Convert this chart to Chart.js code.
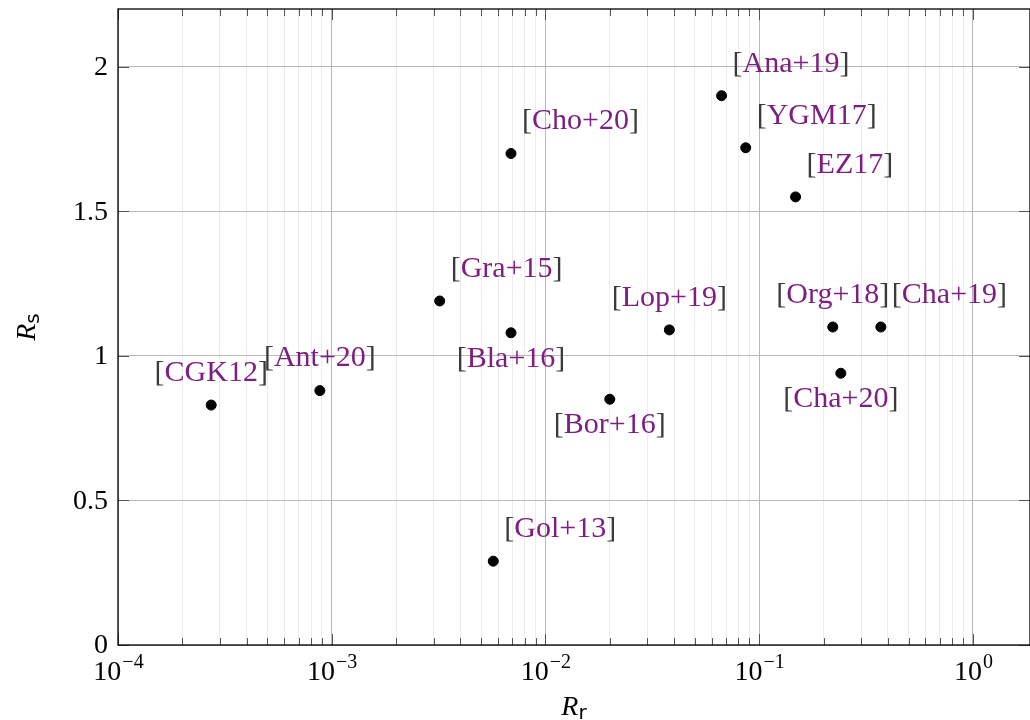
<!DOCTYPE html>
<html><head><meta charset="utf-8">
<script src="https://cdn.jsdelivr.net/npm/chart.js@4/dist/chart.umd.min.js"></script>
<style>html,body{margin:0;padding:0;background:#fff;overflow:hidden}#wrap{width:1030px;height:720px;position:relative;overflow:hidden}</style>
</head><body><div id="wrap"><canvas id="c" width="1036" height="720"></canvas></div>
<script>
// ---- data ----
const refs = ['CGK12','Ant+20','Gra+15','Bla+16','Cho+20','Gol+13','Bor+16','Lop+19','Ana+19','YGM17','EZ17','Org+18','Cha+20','Cha+19'];
const rrValues = [2.73e-4, 8.8e-4, 3.2e-3, 6.9e-3, 6.9e-3, 5.7e-3, 0.0200, 0.0380, 0.0667, 0.0865, 0.148, 0.221, 0.241, 0.371];
const rsValues = [0.83, 0.88, 1.19, 1.08, 1.70, 0.29, 0.85, 1.09, 1.90, 1.72, 1.55, 1.10, 0.94, 1.10];
const xTickValues = [1e-4, 1e-3, 1e-2, 1e-1, 1];
const xTickExponents = ['\u22124', '\u22123', '\u22122', '\u22121', '0'];
const yTickValues = [0, 0.5, 1, 1.5, 2];
const yTickLabels = ['0', '0.5', '1', '1.5', '2'];
const xTitle = ['R', 'r'];
const yTitle = ['R', 's'];

// ---- label placement (style) ----
const labelPlacement = ['a','a','ar','b','ar','ar','b','a','ar','ar','ar','a','b','ar'];

const SERIF = '"Liberation Serif", "DejaVu Serif", serif';
const SANS = '"DejaVu Sans", "Liberation Sans", sans-serif';
const FS = 28;
const LFS = 30;
const PURPLE = '#7d1f80';

const points = rrValues.map((x, i) => ({x: x, y: rsValues[i]}));

function drawLabel(ctx, text, cx, cy, align) {
  ctx.font = LFS + 'px ' + SERIF;
  ctx.textBaseline = 'middle';
  ctx.textAlign = 'left';
  const wl = ctx.measureText('[').width, wt = ctx.measureText(text).width, wr = ctx.measureText(']').width;
  const total = wl + wt + wr;
  let x = align === 'left' ? cx : cx - total / 2;
  ctx.fillStyle = '#3a3a3a';
  ctx.fillText('[', x, cy);
  ctx.fillStyle = PURPLE;
  ctx.fillText(text, x + wl, cy);
  ctx.fillStyle = '#3a3a3a';
  ctx.fillText(']', x + wl + wt, cy);
}

const overlay = {
  id: 'overlay',
  afterDraw(chart) {
    const ctx = chart.ctx;
    const a = chart.chartArea;
    const xs = chart.scales.x, ys = chart.scales.y;
    ctx.save();
    // inward tick marks
    ctx.strokeStyle = '#555';
    ctx.lineWidth = 1;
    xs.ticks.forEach(t => {
      const px = Math.round(xs.getPixelForValue(t.value)) + 0.5;
      const len = xTickValues.includes(t.value) ? 11 : 7;
      ctx.beginPath();
      ctx.moveTo(px, a.bottom); ctx.lineTo(px, a.bottom - len);
      ctx.moveTo(px, a.top); ctx.lineTo(px, a.top + len);
      ctx.stroke();
    });
    ys.ticks.forEach(t => {
      const py = Math.round(ys.getPixelForValue(t.value)) + 0.5;
      ctx.beginPath();
      ctx.moveTo(a.left, py); ctx.lineTo(a.left + 11, py);
      ctx.moveTo(a.right, py); ctx.lineTo(a.right - 11, py);
      ctx.stroke();
    });
    // frame
    ctx.strokeStyle = '#000';
    ctx.lineWidth = 1.3;
    ctx.strokeRect(a.left, a.top, a.right - a.left, a.bottom - a.top);

    // point labels
    const meta = chart.getDatasetMeta(0);
    meta.data.forEach((el, i) => {
      const p = labelPlacement[i];
      if (p === 'ar') drawLabel(ctx, refs[i], el.x + 11, el.y - 32, 'left');
      else if (p === 'a') drawLabel(ctx, refs[i], el.x, el.y - 32, 'center');
      else drawLabel(ctx, refs[i], el.x, el.y + 26, 'center');
    });

    // y tick labels
    ctx.fillStyle = '#000';
    ctx.font = FS + 'px ' + SERIF;
    ctx.textAlign = 'right';
    ctx.textBaseline = 'middle';
    yTickValues.forEach((v, i) => {
      ctx.fillText(yTickLabels[i], a.left - 10, ys.getPixelForValue(v) + 1);
    });
    // x tick labels: 10^exp
    ctx.textBaseline = 'alphabetic';
    ctx.textAlign = 'left';
    xTickValues.forEach((v, i) => {
      const px = xs.getPixelForValue(v);
      ctx.font = FS + 'px ' + SERIF;
      const wb = ctx.measureText('10').width;
      ctx.font = Math.round(FS * 0.72) + 'px ' + SERIF;
      const we = ctx.measureText(xTickExponents[i]).width;
      const x0 = px - (wb + we) / 2;
      ctx.font = FS + 'px ' + SERIF;
      ctx.fillText('10', x0, a.bottom + 35);
      ctx.font = Math.round(FS * 0.72) + 'px ' + SERIF;
      ctx.fillText(xTickExponents[i], x0 + wb + 1, a.bottom + 23);
    });

    // axis titles
    const cxm = (a.left + a.right) / 2;
    ctx.font = 'italic ' + FS + 'px ' + SERIF;
    const wR = ctx.measureText(xTitle[0]).width;
    ctx.font = '20px ' + SANS;
    const wr = ctx.measureText(xTitle[1]).width;
    let x0 = cxm - (wR + wr) / 2;
    ctx.font = 'italic ' + FS + 'px ' + SERIF;
    ctx.fillText(xTitle[0], x0, 715);
    ctx.font = '20px ' + SANS;
    ctx.fillText(xTitle[1], x0 + wR, 719);

    ctx.save();
    const cym = (a.top + a.bottom) / 2;
    ctx.translate(35, cym);
    ctx.rotate(-Math.PI / 2);
    ctx.font = 'italic ' + FS + 'px ' + SERIF;
    const wR2 = ctx.measureText(yTitle[0]).width;
    ctx.font = '20px ' + SANS;
    const ws = ctx.measureText(yTitle[1]).width;
    x0 = -(wR2 + ws) / 2;
    ctx.font = 'italic ' + FS + 'px ' + SERIF;
    ctx.fillText(yTitle[0], x0, 0);
    ctx.font = '20px ' + SANS;
    ctx.fillText(yTitle[1], x0 + wR2, 4);
    ctx.restore();

    ctx.restore();
  }
};

new Chart(document.getElementById('c'), {
  type: 'scatter',
  data: {
    datasets: [{
      data: points,
      backgroundColor: '#000',
      borderColor: '#000',
      pointRadius: 5,
      pointHoverRadius: 5
    }]
  },
  options: {
    responsive: false,
    animation: false,
    devicePixelRatio: 1,
    layout: {padding: {left: 118, right: 1, top: 9, bottom: 75}},
    plugins: {legend: {display: false}, tooltip: {enabled: false}},
    scales: {
      x: {
        type: 'logarithmic',
        min: 1e-4,
        max: 1.85,
        afterBuildTicks(scale) {
          const t = [];
          for (let d = -4; d <= 0; d++) {
            for (let m = 1; m <= 9; m++) {
              const v = m * Math.pow(10, d);
              if (v <= 1.85) t.push({value: Number(v.toPrecision(6))});
            }
          }
          scale.ticks = t;
        },
        ticks: {display: false},
        grid: {
          drawTicks: false,
          color: ctx => (ctx.tick && xTickValues.includes(ctx.tick.value)) ? '#b8b8b8' : '#ececec',
          lineWidth: 1
        },
        border: {display: false}
      },
      y: {
        type: 'linear',
        min: 0,
        max: 2.2,
        afterBuildTicks(scale) {
          scale.ticks = yTickValues.map(v => ({value: v}));
        },
        ticks: {display: false},
        grid: {drawTicks: false, color: '#b8b8b8', lineWidth: 1},
        border: {display: false}
      }
    }
  },
  plugins: [overlay]
});
</script>
</body></html>
